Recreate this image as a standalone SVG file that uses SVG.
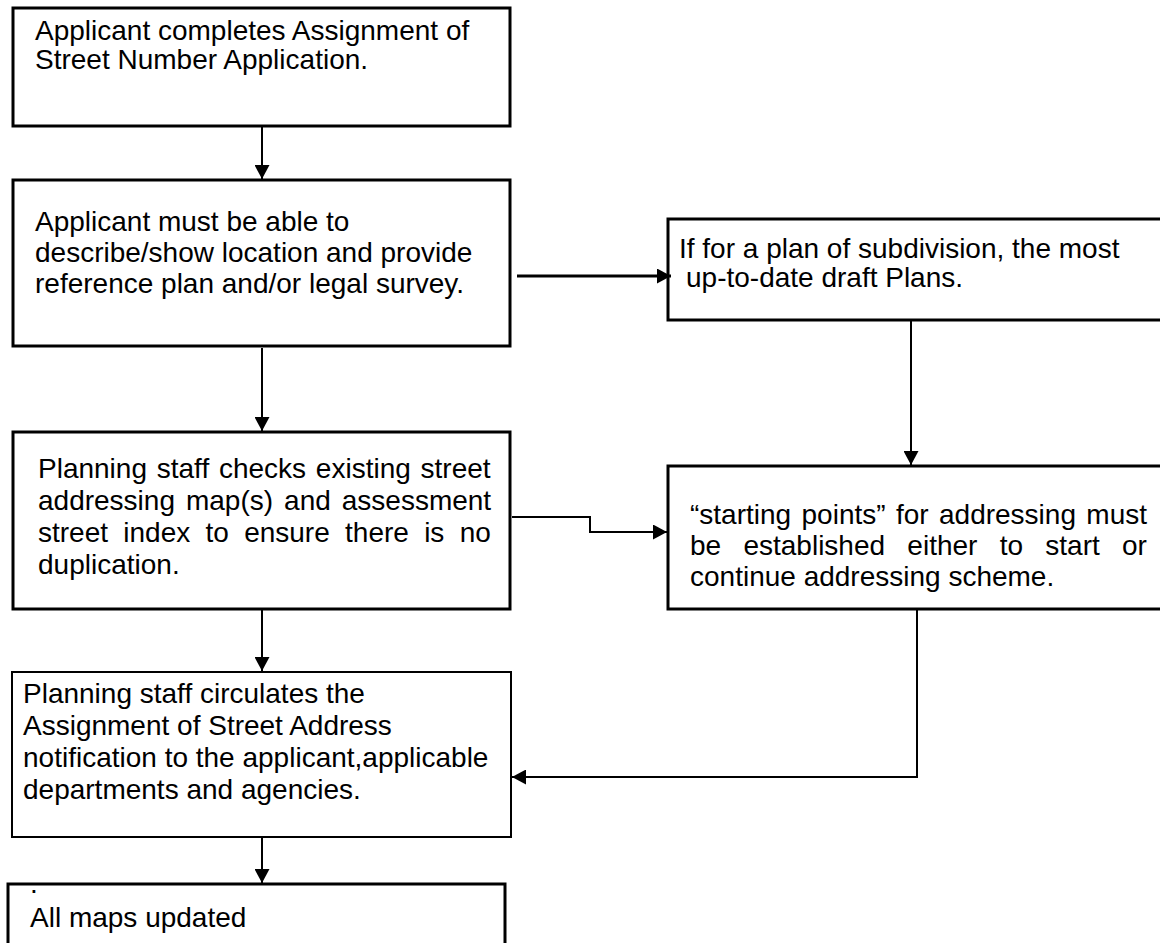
<svg xmlns="http://www.w3.org/2000/svg" width="1160" height="943" viewBox="0 0 1160 943">
<style>
.box{fill:#fff;stroke:#000;stroke-width:3}
.thin{stroke-width:2}
.t{font-family:"Liberation Sans",Arial,sans-serif;font-size:28px;fill:#000}
.c{fill:none;stroke:#000;stroke-width:2}
.w{stroke-width:3}
</style>
<defs>
<marker id="ah" viewBox="0 0 14 15" refX="14" refY="7.5" markerWidth="14" markerHeight="15" markerUnits="userSpaceOnUse" orient="auto">
<path d="M0,0 L14,7.5 L0,15 z" fill="#000"/>
</marker>
</defs>
<rect width="1160" height="943" fill="#fff"/>
<g id="n1">
<rect class="box" x="13" y="8" width="497" height="118"/>
<text class="t" x="35" y="40">Applicant completes Assignment of</text>
<text class="t" x="35" y="69">Street Number Application.</text>
</g>
<g id="n2">
<rect class="box" x="13" y="180" width="497" height="166"/>
<text class="t" x="35" y="231">Applicant must be able to</text>
<text class="t" x="35" y="262">describe/show location and provide</text>
<text class="t" x="35" y="293">reference plan and/or legal survey.</text>
</g>
<g id="n3">
<rect class="box" x="668" y="219" width="500" height="101"/>
<text class="t" x="679" y="258">If for a plan of subdivision, the most</text>
<text class="t" x="686" y="287">up-to-date draft Plans.</text>
</g>
<g id="n4">
<rect class="box" x="13" y="432" width="497" height="177"/>
<text class="t" x="38" y="478" word-spacing="2">Planning staff checks existing street</text>
<text class="t" x="38" y="510" word-spacing="3.2">addressing map(s) and assessment</text>
<text class="t" x="38" y="542" word-spacing="7.5">street index to ensure there is no</text>
<text class="t" x="38" y="574">duplication.</text>
</g>
<g id="n5">
<rect class="box" x="668" y="466" width="500" height="143"/>
<text class="t" x="690" y="524" word-spacing="2.6">“starting points” for addressing must</text>
<text class="t" x="690" y="555" word-spacing="14.5">be established either to start or</text>
<text class="t" x="690" y="586">continue addressing scheme.</text>
</g>
<g id="n6">
<rect class="box thin" x="12" y="672" width="499" height="165"/>
<text class="t" x="23" y="703">Planning staff circulates the</text>
<text class="t" x="23" y="735">Assignment of Street Address</text>
<text class="t" x="23" y="767">notification to the applicant,applicable</text>
<text class="t" x="23" y="799">departments and agencies.</text>
</g>
<g id="n7">
<rect class="box" x="8" y="884" width="497" height="80"/>
<text class="t" x="30" y="893">.</text>
<text class="t" x="30" y="927">All maps updated</text>
</g>
<g id="connectors">
<line class="c" x1="262" y1="127" x2="262" y2="179" marker-end="url(#ah)"/>
<line class="c w" x1="517" y1="276" x2="671" y2="276" marker-end="url(#ah)"/>
<line class="c" x1="262" y1="348" x2="262" y2="431" marker-end="url(#ah)"/>
<line class="c" x1="911" y1="321" x2="911" y2="465" marker-end="url(#ah)"/>
<polyline class="c" points="512,517 590,517 590,532 667,532" marker-end="url(#ah)"/>
<line class="c" x1="262" y1="610" x2="262" y2="671" marker-end="url(#ah)"/>
<polyline class="c" points="917,610 917,777 512,777" marker-end="url(#ah)"/>
<line class="c" x1="262" y1="838" x2="262" y2="883" marker-end="url(#ah)"/>
</g>
</svg>
